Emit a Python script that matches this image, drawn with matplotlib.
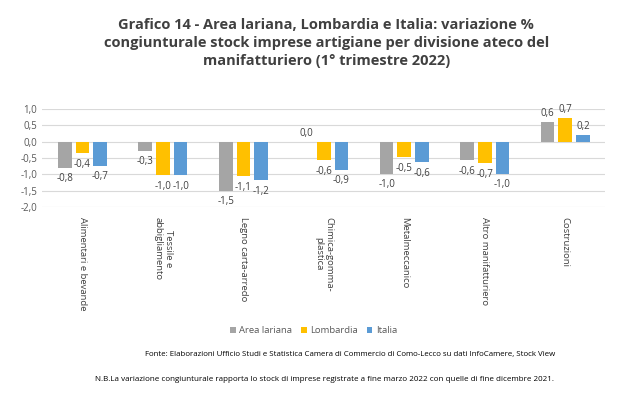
import numpy as np
import matplotlib.pyplot as plt

plt.rcParams['font.family'] = ['Open Sans', 'DejaVu Sans']

categories = ['Alimentari e bevande', 'Tessile e\nabbigliamento', 'Legno carta-arredo',
              'Chimica-gomma-\nplastica', 'Metalmeccanico', 'Altro manifatturiero',
              'Costruzioni']
area_lariana = [-0.80, -0.28, -1.50, 0.00, -0.98, -0.56, 0.61]
lombardia = [-0.36, -1.03, -1.06, -0.57, -0.48, -0.66, 0.72]
italia = [-0.74, -1.02, -1.18, -0.86, -0.63, -0.98, 0.21]
series = [('Area lariana', area_lariana, '#a5a5a5'),
          ('Lombardia', lombardia, '#ffc000'),
          ('Italia', italia, '#5b9bd5')]

fig = plt.figure(figsize=(6.4, 3.98), dpi=100)
ax = fig.add_axes([0.066, 0.48, 0.88, 0.246])

x = np.arange(len(categories))
w = 0.17
offs = [-0.22, 0, 0.22]
for (name, vals, col), o in zip(series, offs):
    bars = ax.bar(x + o, vals, w, color=col, label=name, zorder=3)
    for b, v in zip(bars, vals):
        lab = f"{v:.1f}".replace('.', ',')
        if v >= 0:
            ax.annotate(lab, (b.get_x() + b.get_width() / 2, v), xytext=(0, 2),
                        textcoords='offset points', ha='center', va='bottom',
                        fontsize=7, color='#404040')
        else:
            ax.annotate(lab, (b.get_x() + b.get_width() / 2, v), xytext=(0, -4),
                        textcoords='offset points', ha='center', va='top',
                        fontsize=7, color='#404040')

ax.set_xlim(-0.5, len(categories) - 0.5)
ax.set_ylim(-2.0, 1.0)
ax.set_yticks(np.arange(-2.0, 1.01, 0.5))
ax.set_yticklabels([f"{t:.1f}".replace('.', ',') for t in np.arange(-2.0, 1.01, 0.5)],
                   fontsize=7, color='#595959')
ax.grid(axis='y', color='#d9d9d9', linewidth=0.8, zorder=0)
for s in ax.spines.values():
    s.set_visible(False)
ax.tick_params(length=0)
ax.set_xticks(x)
ax.set_xticklabels(categories, rotation=270, fontsize=6.8, color='#404040',
                   va='top', ha='center', multialignment='center')
ax.tick_params(axis='x', pad=7)

fig.text(0.51, 0.955, 'Grafico 14 - Area lariana, Lombardia e Italia: variazione %\n'
         'congiunturale stock imprese artigiane per divisione ateco del\n'
         'manifatturiero (1° trimestre 2022)', ha='center', va='top',
         fontsize=10.5, fontweight='bold', color='#404040', linespacing=1.35)

fig.legend(loc='center', bbox_to_anchor=(0.49, 0.17), ncol=3, frameon=False,
           fontsize=6.8, handlelength=0.6, handleheight=0.6, columnspacing=0.9,
           handletextpad=0.4, labelcolor='#595959')

fig.text(0.867, 0.11, 'Fonte: Elaborazioni Ufficio Studi e Statistica Camera di Commercio di '
         'Como-Lecco su dati InfoCamere, Stock View', ha='right', va='center',
         fontsize=5.7, color='#000000')
fig.text(0.865, 0.047, 'N.B.La variazione congiunturale rapporta lo stock di imprese registrate '
         'a fine marzo 2022 con quelle di fine dicembre 2021.', ha='right', va='center',
         fontsize=5.8, color='#000000')

fig.savefig('out.png', dpi=100)
